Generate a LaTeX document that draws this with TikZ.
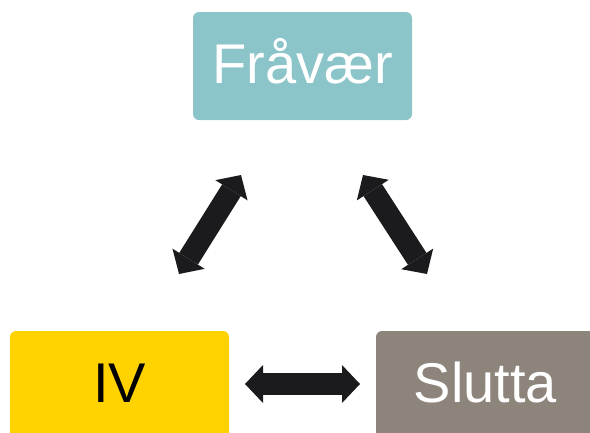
\documentclass[tikz,border=0pt]{standalone}
\usepackage{fontspec}
\setmainfont{Liberation Sans}
\usetikzlibrary{arrows.meta}
\definecolor{MyTeal}{HTML}{8BC5C9}
\definecolor{MyYellow}{HTML}{FFD200}
\definecolor{MyTaupe}{HTML}{8D847B}
\definecolor{MyBlack}{HTML}{1B1A1C}

\begin{document}
\begin{tikzpicture}[x=1pt,y=-1pt,
    box/.style={rounded corners=6pt,minimum width=219pt,minimum height=108pt,inner sep=0pt,text height=40pt,text depth=6pt,font=\fontsize{56}{60}\selectfont},
    dblarrow/.style={MyBlack,line width=22pt,{Triangle[length=18pt,width=38pt,line width=0pt]}-{Triangle[length=18pt,width=38pt,line width=0pt]}}]
    \useasboundingbox (0,0) rectangle (590,432);
    \node[box,fill=MyTeal,text=white] (fravaer) at (302.5,66) {Fråvær};
    \node[box,fill=MyYellow,text=black] (iv) at (119.5,385) {IV};
    \node[box,fill=MyTaupe,text=white] (slutta) at (485.5,385) {Slutta};

    \coordinate (fravaerL) at (241,175);
    \coordinate (ivT) at (179,274);
    \coordinate (fravaerR) at (363,175);
    \coordinate (sluttaT) at (427,274);
    \coordinate (ivR) at (245,384);
    \coordinate (sluttaL) at (360,384);

    \draw[dblarrow] (fravaerL) -- (ivT);
    \draw[dblarrow] (fravaerR) -- (sluttaT);
    \draw[dblarrow] (ivR) -- (sluttaL);
\end{tikzpicture}
\end{document}
